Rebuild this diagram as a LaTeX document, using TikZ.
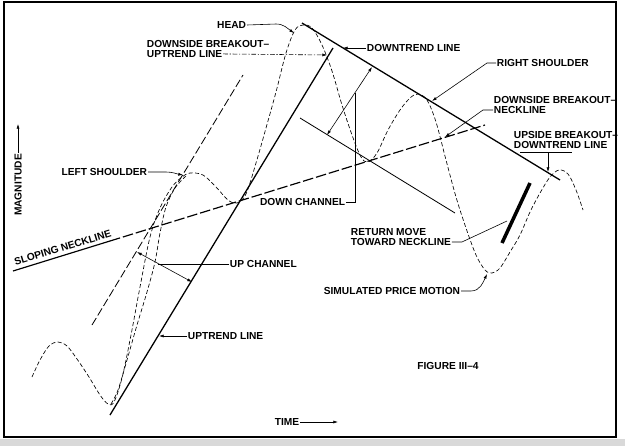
\documentclass[tikz,border=0pt]{standalone}
\usepackage{fontspec}
\setmainfont{Liberation Sans}
\usetikzlibrary{arrows.meta, positioning}

\begin{document}
\begin{tikzpicture}[
  x=0.03cm, y=-0.03cm,
  node distance=1.2pt and 0pt,
  lbl/.style={font=\bfseries\fontsize{8.7}{9.4}\selectfont, inner sep=0.6pt},
  trend/.style={line width=1.1pt},
  chan/.style={line width=0.7pt, dash pattern=on 7pt off 2.5pt},
  neck/.style={line width=1pt, dash pattern=on 9pt off 2.5pt},
  price/.style={line width=0.55pt, dash pattern=on 3.5pt off 2pt},
  leader/.style={-{Latex[length=4pt, width=2.6pt]}, line width=0.5pt},
  dbl/.style={{Latex[length=4pt, width=2.6pt]}-{Latex[length=4pt, width=2.6pt]}, line width=0.5pt},
  dashdot/.style={dash pattern=on 4pt off 1.5pt on 1pt off 1.5pt},
  tick/.style={line width=0.5pt}
]

\useasboundingbox (0,0) rectangle (625,446);
\fill[black!15] (0,439) rectangle (625,446);
\draw[line width=1.3pt] (4,2) rectangle (616,437);

% trend lines, channels, neckline
\coordinate (up0) at (110,415); \coordinate (up1) at (333,48);
\coordinate (dn0) at (302,23);  \coordinate (dn1) at (560,180);
\coordinate (uc0) at (92,325);  \coordinate (uc1) at (243,75);
\coordinate (dc0) at (300,118); \coordinate (dc1) at (455,213);
\coordinate (nk0) at (13,271);  \coordinate (nkT) at (110,241); \coordinate (nk1) at (485,125);

\draw[trend] (up0) -- (up1);
\draw[trend] (dn0) -- (dn1);
\draw[chan] (uc0) -- (uc1);
\draw[line width=0.7pt] (dc0) -- (dc1);
\draw[line width=1pt] (nk0) -- (nkT);
\draw[neck] (nkT) -- (nk1);
\node[lbl, anchor=south west, rotate=17] (slope) at (15,267) {SLOPING NECKLINE};

% channel widths
\coordinate (ucA) at (137,252); \coordinate (ucB) at (192,282);
\coordinate (dcA) at (327,135); \coordinate (dcB) at (372,67);
\draw[dbl] (ucA) -- (ucB);
\draw[dbl] (dcA) -- (dcB);

% simulated price motion
\draw[price] plot[smooth, tension=0.55] coordinates {
  (32,377) (40,360) (49,346) (58,342) (67,346) (77,359) (89,377) (100,395) (108,404) (114,402)
  (122,378) (131,335) (140,287) (150,237) (160,208) (172,187) (182,177) (190,173) (203,175)
  (216,187) (228,200) (237,203) (246,194) (256,163) (266,128) (276,92) (286,53) (295,30)
  (303,25) (312,28) (322,45) (332,71) (342,105) (352,135) (361,157) (368,162) (377,153)
  (388,130) (400,110) (410,98) (418,94) (427,100) (436,122) (446,160) (456,197) (466,228)
  (476,255) (485,270) (492,273) (500,268) (510,252) (520,235) (530,212) (540,193) (550,177)
  (559,170) (568,174) (576,190) (583,210)};
\draw[price] plot[smooth, tension=0.55] coordinates {
  (111,404) (118,390) (127,360) (137,325) (147,292) (155,262) (160,233) (166,207) (175,188) (186,176)};

% return move bar
\coordinate (bar0) at (530,183); \coordinate (bar1) at (502,243);
\draw[line width=3pt] (bar0) -- (bar1);

% axes
\node[lbl, rotate=90] (mag) at (18,185) {MAGNITUDE};
\coordinate (magtip) at (18,124);
\draw[leader] (mag.east) -- (magtip);
\node[lbl] (time) at (287,422) {TIME};
\coordinate (timetip) at (338,422);
\draw[leader] (time.east) -- (timetip);
\node[lbl] (fig) at (448,366) {FIGURE III--4};

% labels and leaders
\node[lbl, anchor=east] (head) at (247,25) {HEAD};
\coordinate (headtip) at (294,33);
\draw[leader] (head.east) -- (276,24) to[out=0, in=145] (headtip);

\node[lbl, anchor=base west] (dbuA) at (146,47) {DOWNSIDE BREAKOUT--};
\node[lbl, below=of dbuA.south west, anchor=north west] (dbuB) {UPTREND LINE};
\coordinate (dbutip) at (327,55);
\draw[leader, dashdot] (dbuB.east) -- (dbutip);

\node[lbl, anchor=west] (dtl) at (366,48) {DOWNTREND LINE};
\coordinate (dtltip) at (343,48);
\draw[leader] (dtl.west) -- (dtltip);

\node[lbl, anchor=west] (rsh) at (496,63) {RIGHT SHOULDER};
\coordinate (rshtip) at (432,101);
\draw[leader] (rsh.west) -- ++(-9,0) -- (rshtip);

\node[lbl, anchor=base west] (dbnA) at (493,103) {DOWNSIDE BREAKOUT--};
\node[lbl, below=of dbnA.south west, anchor=north west] (dbnB) {NECKLINE};
\coordinate (dbntip) at (445,137);
\draw[leader] (dbnB.west) -- ++(-10,0) -- (dbntip);

\node[lbl, anchor=base west] (ubuA) at (513,138) {UPSIDE BREAKOUT--};
\node[lbl, below=of ubuA.south west, anchor=north west] (ubuB) {DOWNTREND LINE};
\coordinate (ubul) at (520,152); \coordinate (ubur) at (572,152);
\coordinate (ubum) at (548,152); \coordinate (ubutip) at (548,172);
\draw[tick] (ubul) -- (ubur);
\draw[leader] (ubum) -- (ubutip);

\node[lbl, anchor=east] (lsh) at (148,172) {LEFT SHOULDER};
\coordinate (lshtip) at (183,175);
\draw[leader] (lsh.east) -- ++(18,0) to[out=0, in=170] (lshtip);

\node[lbl, anchor=east] (dch) at (346,202) {DOWN CHANNEL};
\coordinate (dchtop) at (355,93);
\draw[tick] (dch.east) -| (dchtop);

\node[lbl, anchor=west] (uch) at (229,264) {UP CHANNEL};
\coordinate (uchend) at (158,264);
\draw[tick] (uch.west) -- (uchend);

\node[lbl, anchor=west] (utl) at (187,336) {UPTREND LINE};
\coordinate (utltip) at (159,336);
\draw[leader] (utl.west) -- (utltip);

\node[lbl, anchor=base west] (rmA) at (350,235) {RETURN MOVE};
\node[lbl, below=of rmA.south west, anchor=north west] (rmB) {TOWARD NECKLINE};
\coordinate (rmend) at (507,221);
\draw[tick] (rmB.east) -- ++(10,0) -- (rmend);

\node[lbl, anchor=east] (spm) at (461,291) {SIMULATED PRICE MOTION};
\coordinate (spmtip) at (487,274);
\draw[leader] (spm.east) -- ++(10,0) to[out=0, in=-115] (spmtip);

\end{tikzpicture}
\end{document}
